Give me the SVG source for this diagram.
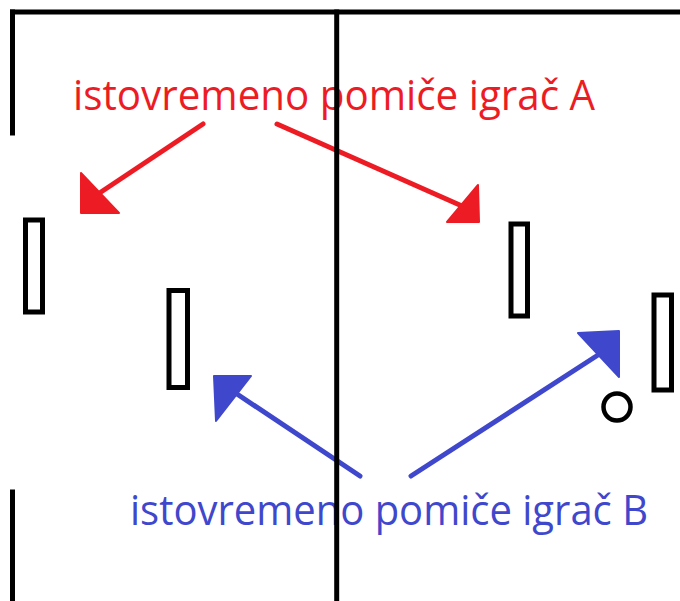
<svg xmlns="http://www.w3.org/2000/svg" width="680" height="601" viewBox="0 0 680 601">
  <style>
    .wall { stroke: #000; stroke-width: 5; fill: none; stroke-linecap: butt; }
    .paddle { stroke: #000; stroke-width: 5; fill: #fff; }
    .ball { stroke: #000; stroke-width: 4.5; fill: #fff; }
    .label { font-family: "Open Sans", "Liberation Sans", sans-serif; font-size: 42px; }
    .red { fill: #ED1C24; }
    .blue { fill: #3F48CC; }
    .shaft { fill: none; stroke-width: 5; stroke-linecap: round; }
    .shaft.red { stroke: #ED1C24; fill: none; }
    .shaft.blue { stroke: #3F48CC; fill: none; }
    .head { stroke-width: 2; stroke-linejoin: round; }
    .head.red { fill: #ED1C24; stroke: #ED1C24; }
    .head.blue { fill: #3F48CC; stroke: #3F48CC; }
  </style>
  <rect width="680" height="601" fill="#fff"/>

  <!-- labels -->
  <g id="label-a">
    <text class="label red" x="73" y="110" textLength="522" lengthAdjust="spacingAndGlyphs">istovremeno pomiče igrač A</text>
  </g>
  <g id="label-b">
    <text class="label blue" x="130" y="525" textLength="518" lengthAdjust="spacingAndGlyphs">istovremeno pomiče igrač B</text>
  </g>

  <!-- arrows -->
  <g id="connectors">
    <line class="shaft red" x1="203" y1="124" x2="101" y2="192"/>
    <polygon class="head red" points="81,173 81,213 119,213"/>
    <line class="shaft red" x1="277" y1="124" x2="462" y2="206"/>
    <polygon class="head red" points="478,185 447,222 479,222"/>
    <line class="shaft blue" x1="360" y1="476" x2="234" y2="392"/>
    <polygon class="head blue" points="214,376 251,376 216,421"/>
    <line class="shaft blue" x1="411" y1="476" x2="598" y2="355"/>
    <polygon class="head blue" points="578,333 619,331 619,377"/>
  </g>

  <!-- paddles and ball -->
  <g id="paddle-1"><rect class="paddle" x="25.5" y="220" width="17" height="92"/></g>
  <g id="paddle-2"><rect class="paddle" x="169" y="290.5" width="18.5" height="97"/></g>
  <g id="paddle-3"><rect class="paddle" x="511" y="224" width="16.5" height="92"/></g>
  <g id="paddle-4"><rect class="paddle" x="654" y="295" width="17.5" height="95"/></g>
  <g id="ball"><circle class="ball" cx="617" cy="407" r="13.5"/></g>

  <!-- field lines -->
  <g id="field">
    <line class="wall" x1="10" y1="12" x2="680" y2="12"/>
    <line class="wall" x1="12.5" y1="9.5" x2="12.5" y2="135.5"/>
    <line class="wall" x1="12.5" y1="489.5" x2="12.5" y2="601"/>
    <line class="wall" x1="336.7" y1="9.5" x2="336.7" y2="601"/>
  </g>
</svg>
